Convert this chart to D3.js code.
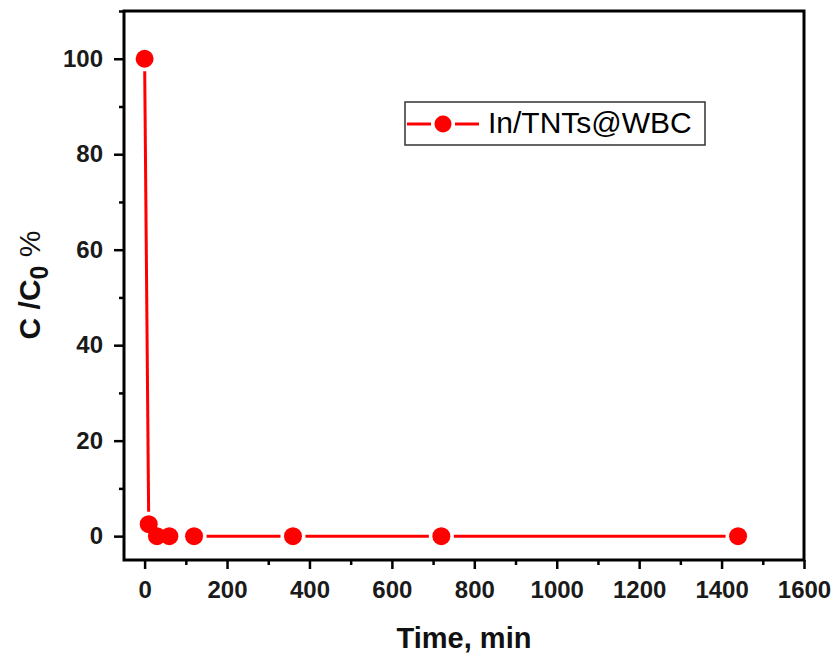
<!DOCTYPE html>
<html><head><meta charset="utf-8">
<script src="https://cdn.jsdelivr.net/npm/d3@7"></script>
<style>body{margin:0;background:#fff;} svg{display:block;}</style>
</head><body>
<script>
const times = [0, 10, 30, 60, 120, 360, 720, 1440];
const values = [100, 2.5, 0, 0, 0, 0, 0, 0];
const seriesName = "In/TNTs@WBC";
const xTicks = [0, 200, 400, 600, 800, 1000, 1200, 1400, 1600];
const yTicks = [0, 20, 40, 60, 80, 100];

const W = 837, H = 654;
const m = {left:124, top:11, right:33, bottom:94};
const svg = d3.select("body").append("svg").attr("width", W).attr("height", H);
const x = d3.scaleLinear().domain([-50, 1600]).range([m.left, W - m.right]);
const y = d3.scaleLinear().domain([-5, 110]).range([H - m.bottom, m.top]);
const font = "'Liberation Sans', Arial, sans-serif";
const red = "#ff0000";
const R = 9, GAP = 3.5;

// data line with gaps around markers
const data = times.map((t, i) => ({t, v: values[i]}));
const segs = [];
for (let i = 0; i < data.length - 1; i++) {
  const x1 = x(data[i].t), y1 = y(data[i].v), x2 = x(data[i+1].t), y2 = y(data[i+1].v);
  const dx = x2 - x1, dy = y2 - y1, L = Math.hypot(dx, dy);
  const c = R + GAP;
  if (L > 2 * c) segs.push([x1 + dx / L * c, y1 + dy / L * c, x2 - dx / L * c, y2 - dy / L * c]);
}
svg.append("g").selectAll("line").data(segs).join("line")
  .attr("x1", d => d[0]).attr("y1", d => d[1]).attr("x2", d => d[2]).attr("y2", d => d[3])
  .attr("stroke", red).attr("stroke-width", 3);
svg.append("g").selectAll("circle").data(data).join("circle")
  .attr("cx", d => x(d.t)).attr("cy", d => y(d.v)).attr("r", R).attr("fill", red);

// axes
const xAxis = d3.axisBottom(x).tickValues(xTicks).tickSize(9).tickPadding(12).tickFormat(d3.format("d"));
const yAxis = d3.axisLeft(y).tickValues(yTicks).tickSize(10).tickPadding(11).tickFormat(d3.format("d"));
const gx = svg.append("g").attr("transform", `translate(0,${H - m.bottom})`).call(xAxis);
const gy = svg.append("g").attr("transform", `translate(${m.left},0)`).call(yAxis);
// minor ticks
const xMinor = xTicks.slice(0, -1).map(d => d + 100);
const yMinor = yTicks.map(d => d + 10);
svg.append("g").attr("transform", `translate(0,${H - m.bottom})`)
  .call(d3.axisBottom(x).tickValues(xMinor).tickSize(5).tickFormat(""));
svg.append("g").attr("transform", `translate(${m.left},0)`)
  .call(d3.axisLeft(y).tickValues(yMinor).tickSize(5).tickFormat(""));
svg.selectAll(".domain").remove();
svg.selectAll(".tick line").attr("stroke", "#000").attr("stroke-width", 2.5);
svg.selectAll(".tick text").attr("font-family", font).attr("font-weight", "bold")
  .attr("font-size", 24).attr("fill", "#1a1a1a");

// frame
svg.append("rect").attr("x", m.left).attr("y", m.top)
  .attr("width", W - m.left - m.right).attr("height", H - m.top - m.bottom)
  .attr("fill", "none").attr("stroke", "#000").attr("stroke-width", 3);

// axis titles
svg.append("text").attr("x", (m.left + W - m.right) / 2).attr("y", 648)
  .attr("text-anchor", "middle").attr("font-family", font).attr("font-weight", "bold")
  .attr("font-size", 29).attr("fill", "#111").text("Time, min");
const yt = svg.append("text").attr("transform", "translate(40,285) rotate(-90)")
  .attr("text-anchor", "middle").attr("font-family", font).attr("font-weight", "bold")
  .attr("font-size", 30).attr("fill", "#111");
yt.append("tspan").text("C /C");
yt.append("tspan").attr("font-size", 25).attr("dy", 8).text("0");
yt.append("tspan").attr("font-weight", "normal").attr("font-size", 30).attr("dy", -8).text(" %");

// legend
const lg = svg.append("g");
lg.append("rect").attr("x", 405).attr("y", 102).attr("width", 300).attr("height", 43)
  .attr("fill", "#fff").attr("stroke", "#333").attr("stroke-width", 1.5);
lg.append("line").attr("x1", 407).attr("x2", 431).attr("y1", 124).attr("y2", 124).attr("stroke", red).attr("stroke-width", 3);
lg.append("line").attr("x1", 455).attr("x2", 479).attr("y1", 124).attr("y2", 124).attr("stroke", red).attr("stroke-width", 3);
lg.append("circle").attr("cx", 443).attr("cy", 124).attr("r", 8.5).attr("fill", red);
lg.append("text").attr("x", 488).attr("y", 133).attr("font-family", font)
  .attr("font-size", 30).attr("fill", "#000").text(seriesName);
</script>
</body></html>
